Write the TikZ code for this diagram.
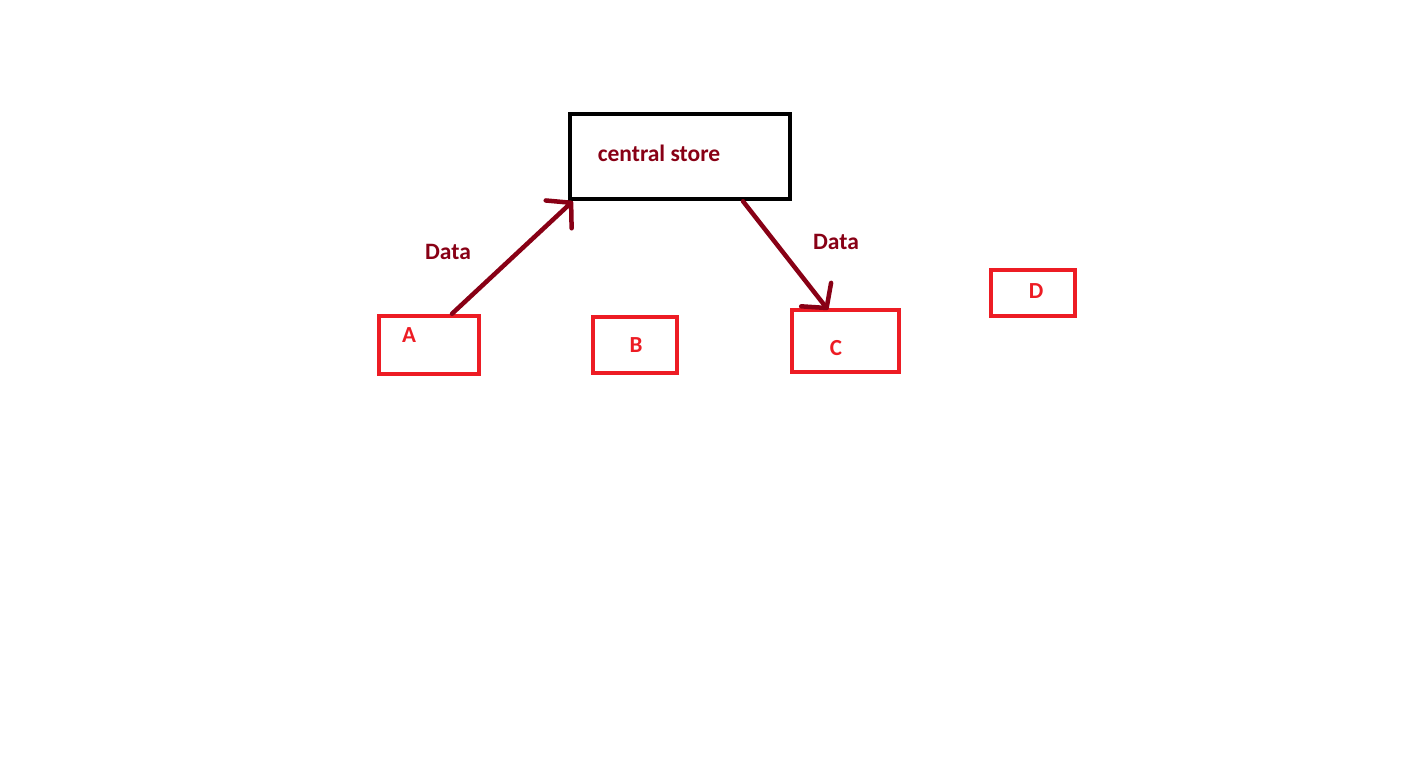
\documentclass[tikz,border=0pt]{standalone}
\usepackage{fontspec}
\setmainfont{Carlito}
\usetikzlibrary{arrows.meta}
\definecolor{paintred}{HTML}{ED1C24}
\definecolor{paintdark}{HTML}{880015}

\begin{document}
\begin{tikzpicture}[x=1pt,y=-1pt,
        box/.style={draw=paintred,line width=4.5pt,rectangle,inner sep=0pt},
        store/.style={draw=black,line width=4.5pt,rectangle,inner sep=0pt,minimum width=220pt,minimum height=85pt},
        letter/.style={text=paintred,font=\fontsize{23}{26}\selectfont\bfseries,inner sep=0pt},
        darklabel/.style={text=paintdark,font=\fontsize{23.5}{26}\selectfont\bfseries,inner sep=0pt},
        dataarrow/.style={draw=paintdark,line width=4.5pt,line cap=round,-{Straight Barb[length=17pt,width=38pt,round]}}]
        \useasboundingbox (0,0) rectangle (1412,765);

        % Central store
        \node[store] (store) at (680,156.5) {};
        \node[darklabel] (storetext) at (659,153) {central store};

        % Boxes
        \node[box,minimum width=100pt,minimum height=58pt] (boxA) at (429,345) {};
        \node[box,minimum width=84pt,minimum height=56pt] (boxB) at (635,345) {};
        \node[box,minimum width=107pt,minimum height=62pt] (boxC) at (845.5,341) {};
        \node[box,minimum width=84pt,minimum height=46pt] (boxD) at (1033,293) {};
        \node[letter] (textA) at (409,335) {A};
        \node[letter] (textB) at (636,345) {B};
        \node[letter] (textC) at (836,348) {C};
        \node[letter] (textD) at (1036,291) {D};

        % Data flows
        \draw[dataarrow] ([xshift=23pt]boxA.north) -- ([xshift=5pt]store.south west);
        \draw[dataarrow] ([xshift=63pt]store.south) -- ([xshift=-17.5pt,yshift=-2pt]boxC.north);
        \node[darklabel] (dataA) at (448,252) {Data};
        \node[darklabel] (dataC) at (836,242) {Data};
    \end{tikzpicture}
\end{document}
